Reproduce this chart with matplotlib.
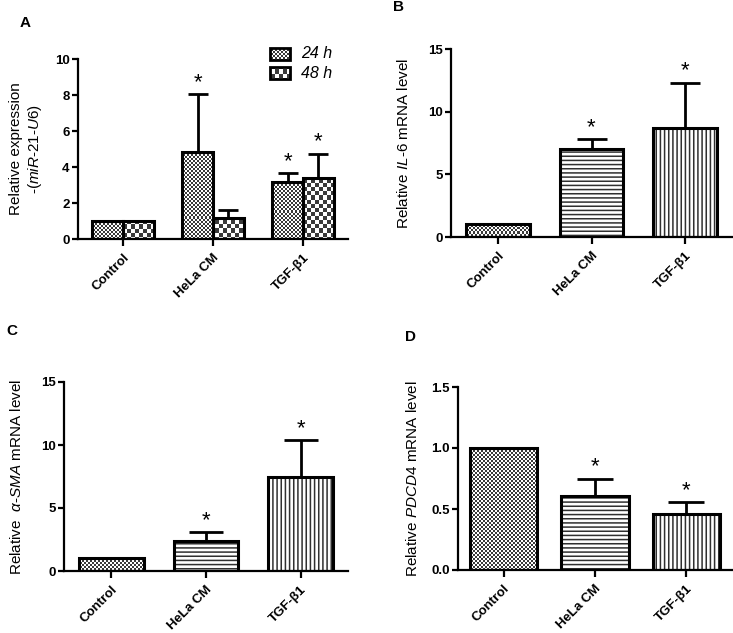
import numpy as np
import matplotlib.pyplot as plt
from matplotlib.patches import Rectangle
from matplotlib.colors import ListedColormap

plt.rcParams['font.family'] = 'Liberation Sans'
plt.rcParams['mathtext.fontset'] = 'custom'
plt.rcParams['mathtext.rm'] = 'Liberation Sans'
plt.rcParams['mathtext.it'] = 'Liberation Sans:italic'
plt.rcParams['mathtext.bf'] = 'Liberation Sans:bold'
plt.rcParams['hatch.linewidth'] = 1.1

categories = ['Control', 'HeLa CM', 'TGF-β1']

# A: miR-21 relative expression, 24 h and 48 h
mir21_24h = [1.0, 4.85, 3.15]
mir21_24h_err = [0.0, 3.2, 0.5]
mir21_48h = [1.0, 1.15, 3.4]
mir21_48h_err = [0.0, 0.45, 1.35]
mir21_24h_sig = [False, True, True]
mir21_48h_sig = [False, False, True]

# B: IL-6
il6 = [1.0, 7.0, 8.72]
il6_err = [0.0, 0.8, 3.58]
# C: alpha-SMA
asma = [1.0, 2.4, 7.45]
asma_err = [0.0, 0.7, 2.95]
# D: PDCD4
pdcd4 = [1.0, 0.605, 0.455]
pdcd4_err = [0.0, 0.145, 0.1]
single_sig = [False, True, True]

W, H = 733, 633
fig = plt.figure(figsize=(W / 100, H / 100), dpi=100)
check_cmap = ListedColormap(['#3a3a3a', 'white'])


def add_ax(left, top, right, bottom):
    return fig.add_axes([left / W, 1 - bottom / H, (right - left) / W, (bottom - top) / H])


def checker(ax, cell, clip_patch, zorder):
    bb = ax.get_position()
    nx = int(1.2 * bb.width * W / cell)
    ny = int(1.4 * bb.height * H / cell)
    arr = np.indices((ny, nx)).sum(0) % 2
    im = ax.imshow(arr, cmap=check_cmap, vmin=0, vmax=1, extent=(-0.1, 1.1, -0.1, 1.3),
                   transform=ax.transAxes, interpolation='nearest', aspect='auto',
                   zorder=zorder)
    im.set_clip_path(clip_patch)


def draw_bars(ax, x, vals, err, width, styles, capsize):
    fills = ax.bar(x, vals, width, color='white', edgecolor='#303030', linewidth=0, zorder=1)
    for p, st in zip(fills, styles):
        if st == 'h':
            p.set_hatch('----')
        elif st == 'v':
            p.set_hatch('||||')
        elif st == 'fine':
            checker(ax, 2, p, 1.5)
        elif st == 'coarse':
            checker(ax, 4, p, 1.5)
    ax.bar(x, vals, width, fill=False, edgecolor='black', linewidth=2.2, zorder=3)
    ax.errorbar(x, vals, yerr=[np.zeros(len(err)), err], fmt='none', ecolor='black',
                elinewidth=2, capsize=capsize, capthick=2, zorder=2)


def stars(ax, x, vals, err, sig):
    for xi, v, e, s in zip(x, vals, err, sig):
        if s:
            ax.annotate('*', (xi, v + e), xytext=(0, 4.5), textcoords='offset points',
                        ha='center', va='baseline', fontsize=16)


def style_axes(ax, ymax, yticks, fmt=None):
    ax.set_xlim(-0.5, 2.5)
    ax.set_ylim(0, ymax)
    for s in ['top', 'right']:
        ax.spines[s].set_visible(False)
    for s in ['left', 'bottom']:
        ax.spines[s].set_linewidth(1.6)
    ax.set_yticks(yticks)
    if fmt:
        ax.set_yticklabels([fmt % t for t in yticks])
    ax.set_xticks(range(len(categories)))
    ax.set_xticklabels(categories, rotation=45, ha='right', rotation_mode='anchor')
    ax.tick_params(axis='both', width=1.6, length=4, labelsize=9.5, pad=2)
    ax.tick_params(axis='x', length=5, pad=4)
    for lab in ax.get_xticklabels() + ax.get_yticklabels():
        lab.set_fontweight('bold')


x = np.arange(len(categories))

# ---- A ----
axA = add_ax(78, 59, 348, 239)
bw = 0.34
draw_bars(axA, x - bw / 2, mir21_24h, mir21_24h_err, bw, ['fine'] * 3, 7)
draw_bars(axA, x + bw / 2, mir21_48h, mir21_48h_err, bw, ['coarse'] * 3, 7)
stars(axA, x - bw / 2, mir21_24h, mir21_24h_err, mir21_24h_sig)
stars(axA, x + bw / 2, mir21_48h, mir21_48h_err, mir21_48h_sig)
style_axes(axA, 10, [0, 2, 4, 6, 8, 10])
axA.set_ylabel('Relative expression\n-($\\mathit{miR}$-$\\mathit{21}$-$\\mathit{U6}$)',
               fontsize=11, labelpad=8)
# legend
for (y0, lab, cell) in [(0.994, '24 h', 2), (0.887, '48 h', 4)]:
    r = Rectangle((0.711, y0), 0.074, 0.069, transform=axA.transAxes, fill=False,
                  edgecolor='black', linewidth=2, clip_on=False, zorder=3)
    axA.add_patch(r)
    checker(axA, cell, r, 1.5)
    axA.text(0.825, y0 + 0.034, lab, transform=axA.transAxes, fontsize=11.5,
             style='italic', va='center', ha='left')
axA.set_xlim(-0.5, 2.5)
axA.set_ylim(0, 10)

# ---- B ----
axB = add_ax(451, 49, 732, 237)
draw_bars(axB, x, il6, il6_err, 0.68, ['fine', 'h', 'v'], 11)
stars(axB, x, il6, il6_err, single_sig)
style_axes(axB, 15, [0, 5, 10, 15])
axB.set_ylabel('Relative $\\mathit{IL}$-$\\mathit{6}$ mRNA level', fontsize=11, labelpad=12)

# ---- C ----
axC = add_ax(64, 382, 348, 571)
draw_bars(axC, x, asma, asma_err, 0.68, ['fine', 'h', 'v'], 12)
stars(axC, x, asma, asma_err, single_sig)
style_axes(axC, 15, [0, 5, 10, 15])
axC.set_ylabel('Relative  $\\mathit{\\alpha}$-$\\mathit{SMA}$ mRNA level', fontsize=11, labelpad=12)

# ---- D ----
axD = add_ax(458, 387, 732, 570)
draw_bars(axD, x, pdcd4, pdcd4_err, 0.74, ['fine', 'h', 'v'], 13)
stars(axD, x, pdcd4, pdcd4_err, single_sig)
style_axes(axD, 1.5, [0, 0.5, 1.0, 1.5], '%.1f')
axD.set_ylabel('Relative $\\mathit{PDCD4}$ mRNA level', fontsize=11, labelpad=8)

for lab, px, py in [('A', 25, 23), ('B', 398, 7), ('C', 12, 331), ('D', 411, 337)]:
    fig.text(px / W, 1 - py / H, lab, fontsize=11, fontweight='bold', ha='center', va='center')

fig.savefig('out.png', dpi=100)
